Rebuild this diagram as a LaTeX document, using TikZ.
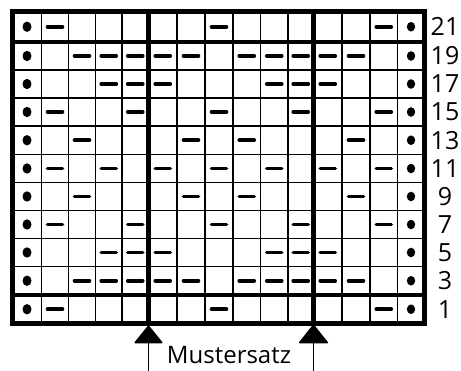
\documentclass[tikz,border=0pt]{standalone}
\usepackage{fontspec}
\setmainfont{Open Sans}
\begin{document}
\begin{tikzpicture}[x=1pt,y=-1pt,
  gridthin/.style={line width=1.8pt},
  gridthick/.style={line width=4.2pt},
  knit/.style={line width=3.6pt, line cap=round},
  edgedot/.style={fill=black},
  marker/.style={fill=black, rounded corners=1.5pt},
  stem/.style={line width=1.8pt},
  rownum/.style={font=\fontsize{25}{28}\selectfont, inner sep=0pt},
  caption/.style={font=\fontsize{24}{27}\selectfont, inner sep=0pt, anchor=base}]
\useasboundingbox (0,0) rectangle (461,371);
\def\cx{{27,55,82,108.75,135.25,162.75,191,219,246.75,274.25,300.75,327.75,356,383.75,411}}
\def\ry{{26.75,56,84,112,140.25,168.5,196.5,224.5,252.5,280.75,309.25}}
% thin grid lines
\foreach \x in {41.5,68.5,95.5,122,177,205,233,260.5,288,342,370,397.5}
  \draw[gridthin] (\x,11.5) -- (\x,323.5);
\foreach \y in {70,98,126,154.5,182.5,210.5,238.5,266.5}
  \draw[gridthin] (12.5,\y) -- (424.5,\y);
% thick lines
\draw[gridthick] (12.5,11.5) rectangle (424.5,323.5);
\draw[gridthick] (12.5,42) -- (424.5,42);
\draw[gridthick] (12.5,295) -- (424.5,295);
\draw[gridthick] (148.5,11.5) -- (148.5,323.5);
\draw[gridthick] (313.5,11.5) -- (313.5,323.5);
% edge dots
\foreach \r in {0,...,10}{
  \pgfmathsetmacro\yy{\ry[\r]}
  \fill[edgedot] (27,\yy) ellipse [x radius=4.5pt, y radius=5.2pt];
  \fill[edgedot] (411,\yy) ellipse [x radius=4.2pt, y radius=4.8pt];
}
% purl marks
\foreach \r/\cols in {0/{2,8,14},1/{3,4,5,6,7,9,10,11,12,13},2/{4,5,6,10,11,12},3/{2,5,8,11,14},4/{3,7,9,13},5/{2,4,6,8,10,12,14},6/{3,7,9,13},7/{2,5,8,11,14},8/{4,5,6,10,11,12},9/{3,4,5,6,7,9,10,11,12,13},10/{2,8,14}}{
  \pgfmathsetmacro\yy{\ry[\r]}
  \foreach \c in \cols {
    \pgfmathsetmacro\xx{\cx[\c-1]}
    \draw[knit] (\xx-7.5,\yy) -- (\xx+7.5,\yy);
  }
}
% row numbers
\foreach \r/\n in {0/21,1/19,2/17,3/15,4/13,5/11,6/9,7/7,8/5,9/3,10/1}{
  \pgfmathsetmacro\yy{\ry[\r]}
  \node[rownum] (row\n) at (445,\yy) {\n};
}
% pattern repeat markers
\coordinate (mA) at (148.5,325);
\coordinate (mB) at (313.5,324);
\coordinate (eA) at (148.5,371);
\coordinate (eB) at (313.5,371);
\fill[marker] (mA) -- ++(15,18.5) -- ++(-30,0) -- cycle;
\fill[marker] (mB) -- ++(15.5,19.5) -- ++(-31,0) -- cycle;
\draw[stem] ([yshift=-18pt]mA) -- (eA);
\draw[stem] ([yshift=-19pt]mB) -- (eB);
\node[caption] (cap) at (229,364) {Mustersatz};
\end{tikzpicture}
\end{document}
